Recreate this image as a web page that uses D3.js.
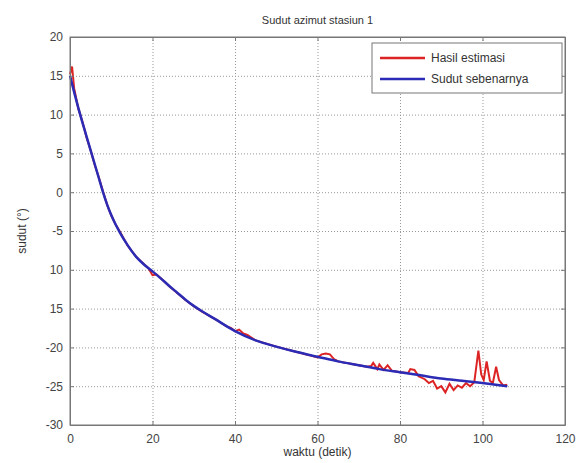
<!DOCTYPE html>
<html>
<head>
<meta charset="utf-8">
<script src="https://cdn.jsdelivr.net/npm/d3@7"></script>
<style>
  body { margin: 0; background: #fff; }
  svg text { font-family: "Liberation Sans", Arial, sans-serif; fill: #333; }
</style>
</head>
<body>
<svg id="chart"></svg>
<script>
// true angle (blue), sparse knots
const trueTime = [0, 1, 2, 3, 4, 5, 6, 7, 8, 9, 10, 11, 12, 14, 16, 18, 20, 22, 24, 26, 28, 30, 32, 35, 40, 45, 50, 55, 60, 65, 70, 75, 80, 85, 90, 95, 100, 106];
const trueAngle = [15, 12.9, 10.9, 9.0, 7.2, 5.4, 3.6, 1.8, 0, -1.6, -2.95, -4.1, -5.1, -6.85, -8.3, -9.35, -10.2, -11.1, -12.05, -12.95, -13.85, -14.65, -15.35, -16.3, -17.9, -19.1, -19.9, -20.6, -21.2, -21.8, -22.3, -22.8, -23.2, -23.6, -24.0, -24.3, -24.6, -25.0];

// estimated angle (red)
const estTime = [0, 0.5, 1, 2, 3, 4, 5, 6, 7, 8, 9, 10, 11, 12, 14, 16, 18, 19, 20, 21, 22, 24, 26, 28, 30, 32, 35, 38, 39, 40, 41, 42, 43, 45, 50, 55, 58, 60, 61, 62, 63, 64, 65, 70, 72, 73, 73.5, 74.5, 75, 76, 77, 78, 80, 82, 82.5, 83.5, 84.5, 86, 87, 88, 89, 90, 91, 92, 93, 94, 95, 96, 97, 98, 99, 99.7, 100.3, 101, 101.8, 102.5, 103.3, 104, 105, 106];
const estAngle = [15.2, 16.2, 13.4, 10.8, 9.1, 7.1, 5.4, 3.5, 1.9, 0.1, -1.6, -3.0, -4.1, -5.0, -6.9, -8.3, -9.3, -9.8, -10.7, -10.6, -11.1, -12.1, -13.0, -13.9, -14.7, -15.4, -16.3, -17.3, -17.5, -17.9, -17.7, -18.2, -18.4, -19.1, -19.9, -20.6, -21.0, -21.3, -20.9, -20.8, -20.9, -21.5, -21.8, -22.3, -22.5, -22.4, -22.0, -22.8, -22.2, -22.9, -22.3, -23.0, -23.2, -23.3, -22.8, -22.9, -23.7, -24.1, -24.6, -24.3, -25.3, -25.0, -25.8, -24.7, -25.5, -24.9, -25.2, -24.6, -25.0, -24.5, -20.4, -23.5, -24.2, -21.8, -24.3, -24.6, -22.5, -24.2, -24.9, -24.8];

const xTicks = [0, 20, 40, 60, 80, 100, 120];
const yTicks = [20, 15, 10, 5, 0, -5, -10, -15, -20, -25, -30];
const yTickLabels = ["20", "15", "10", "5", "0", "-5", "10", "15", "-20", "-25", "-30"];
const seriesNames = ["Hasil estimasi", "Sudut sebenarnya"];
const seriesColors = ["#dd2424", "#2b2bb5"];

const w = 583, h = 463;
const pL = 70, pR = 565, pT = 37, pB = 425;

const svg = d3.select("#chart").attr("width", w).attr("height", h);

const x = d3.scaleLinear().domain([0, 120]).range([pL, pR]);
const y = d3.scaleLinear().domain([-30, 20]).range([pB, pT]);

// grid
svg.append("g")
  .attr("transform", `translate(0,${pB})`)
  .call(d3.axisBottom(x).tickValues(xTicks.slice(1, -1)).tickSize(-(pB - pT)).tickFormat(""))
  .call(g => g.select(".domain").remove())
  .selectAll("line").attr("stroke", "#999").attr("stroke-dasharray", "1,2");
svg.append("g")
  .attr("transform", `translate(${pL},0)`)
  .call(d3.axisLeft(y).tickValues(yTicks.slice(1, -1)).tickSize(-(pR - pL)).tickFormat(""))
  .call(g => g.select(".domain").remove())
  .selectAll("line").attr("stroke", "#999").attr("stroke-dasharray", "1,2");

// series
svg.append("path")
  .attr("d", d3.line().x((d, i) => x(estTime[i])).y(d => y(d))(estAngle))
  .attr("fill", "none").attr("stroke", seriesColors[0]).attr("stroke-width", 2);
svg.append("path")
  .attr("d", d3.line().curve(d3.curveMonotoneX).x((d, i) => x(trueTime[i])).y(d => y(d))(trueAngle))
  .attr("fill", "none").attr("stroke", seriesColors[1]).attr("stroke-width", 2.5);

// frame + axes (ticks inside)
svg.append("rect").attr("x", pL).attr("y", pT).attr("width", pR - pL).attr("height", pB - pT)
  .attr("fill", "none").attr("stroke", "#777");

const xAxis = svg.append("g").attr("transform", `translate(0,${pB})`)
  .call(d3.axisBottom(x).tickValues(xTicks).tickSizeInner(-4).tickSizeOuter(0).tickPadding(9));
const xAxisTop = svg.append("g").attr("transform", `translate(0,${pT})`)
  .call(d3.axisTop(x).tickValues(xTicks).tickSizeInner(-4).tickSizeOuter(0).tickFormat(""));
const yAxis = svg.append("g").attr("transform", `translate(${pL},0)`)
  .call(d3.axisLeft(y).tickValues(yTicks).tickSizeInner(-4).tickSizeOuter(0).tickPadding(7)
    .tickFormat((d, i) => yTickLabels[i]));
const yAxisRight = svg.append("g").attr("transform", `translate(${pR},0)`)
  .call(d3.axisRight(y).tickValues(yTicks).tickSizeInner(-4).tickSizeOuter(0).tickFormat(""));

[xAxis, xAxisTop, yAxis, yAxisRight].forEach(g => {
  g.select(".domain").attr("stroke", "#777");
  g.selectAll(".tick line").attr("stroke", "#777");
  g.selectAll("text").attr("font-size", 12).style("fill", "#444");
});

// titles
svg.append("text").attr("x", (pL + pR) / 2).attr("y", 24).attr("text-anchor", "middle")
  .attr("font-size", 11).text("Sudut azimut stasiun 1");
svg.append("text").attr("x", (pL + pR) / 2).attr("y", 456).attr("text-anchor", "middle")
  .attr("font-size", 12).text("waktu (detik)");
svg.append("text").attr("transform", `translate(26,${(pT + pB) / 2}) rotate(-90)`)
  .attr("text-anchor", "middle").attr("font-size", 12).text("sudut (°)");

// legend
const legend = svg.append("g").attr("transform", "translate(372,43)");
legend.append("rect").attr("width", 190).attr("height", 50)
  .attr("fill", "#fff").attr("stroke", "#777");
seriesNames.forEach((name, i) => {
  legend.append("line").attr("x1", 8).attr("x2", 53).attr("y1", 15 + i * 21).attr("y2", 15 + i * 21)
    .attr("stroke", seriesColors[i]).attr("stroke-width", 2.5);
  legend.append("text").attr("x", 59).attr("y", 19 + i * 21).attr("font-size", 12).text(name);
});
</script>
</body>
</html>
